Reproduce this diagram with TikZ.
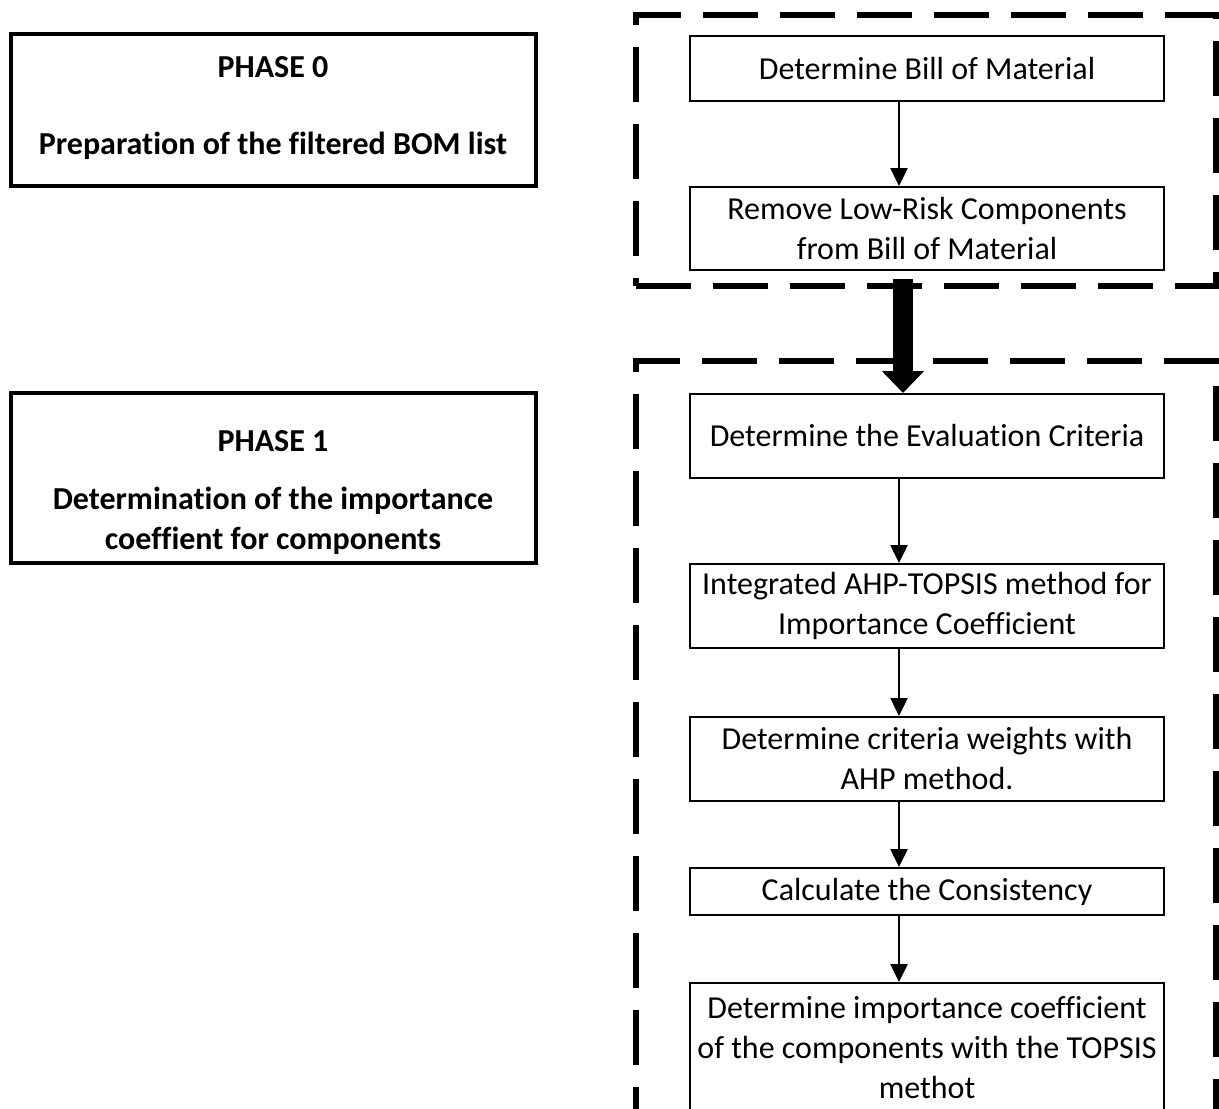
\documentclass[tikz,border=0pt]{standalone}
\usepackage{fontspec}
\setmainfont[Ligatures=NoCommon]{Carlito}
\usetikzlibrary{arrows.meta,calc}
\begin{document}
\begin{tikzpicture}[x=1pt,y=-1pt,
  phasebox/.style={draw, line width=4pt, minimum width=525pt, inner sep=0pt},
  phasetext/.style={font=\fontsize{32}{40}\selectfont\bfseries, align=center, inner sep=0pt},
  stepbox/.style={draw, line width=2pt, minimum width=474pt, inner sep=0pt,
    align=center, font=\fontsize{32}{40}\selectfont},
  group/.style={draw, line width=6pt, dash pattern=on 55pt off 22pt,
    minimum width=580pt, inner sep=0pt},
  flow/.style={line width=2.5pt, -{Triangle[width=17pt,length=18pt]}},
  bigflow/.style={line width=20pt, -{Triangle[width=41pt,length=22pt]}},
]
\useasboundingbox (0,0) rectangle (1219,1109);
\clip (0,0) rectangle (1219,1109);

% phase descriptions on the left
\node[phasebox, minimum height=152pt] (p0) at (273,110) {};
\node[phasetext] (p0t) at (273,108)
  {PHASE 0\\[37pt]Preparation of the filtered BOM list};
\node[phasebox, minimum height=170pt] (p1) at (273,478) {};
\node[phasetext] (p1t) at (273,493)
  {PHASE 1\\[18pt]Determination of the importance\\coeffient for components};

% dashed group frames
\node[group, minimum height=271pt] (g0) at (926,150.5) {};
\node[group, dash phase=47pt, minimum height=839pt] (g1) at (926,780.5) {};

% process steps
\node[stepbox, minimum height=65pt] (A) at (927,68.5) {Determine Bill of Material};
\node[stepbox, minimum height=83pt] (B) at (927,228.5)
  {Remove Low-Risk Components\\from Bill of Material};
\node[stepbox, minimum height=84pt] (C) at (927,436) {Determine the Evaluation Criteria};
\node[stepbox, minimum height=84pt] (D) at (927,606)
  {Integrated AHP-TOPSIS method for\\Importance Coefficient};
\node[stepbox, minimum height=84pt] (E) at (927,759)
  {Determine criteria weights with\\AHP method.};
\node[stepbox, minimum height=47pt] (F) at (927,891.5) {Calculate the Consistency};
\node[stepbox, minimum height=130pt] (G) at (927,1048)
  {Determine importance coefficient\\of the components with the TOPSIS\\methot};

% connectors
\coordinate (ax) at (899,0);
\coordinate (tx) at (903,0);
\draw[flow] (A.south -| ax) -- (B.north -| ax);
\draw[bigflow, shorten <=8pt] (B.south -| tx) -- (C.north -| tx);
\draw[flow] (C.south -| ax) -- (D.north -| ax);
\draw[flow] (D.south -| ax) -- (E.north -| ax);
\draw[flow] (E.south -| ax) -- (F.north -| ax);
\draw[flow] (F.south -| ax) -- (G.north -| ax);
\end{tikzpicture}
\end{document}
